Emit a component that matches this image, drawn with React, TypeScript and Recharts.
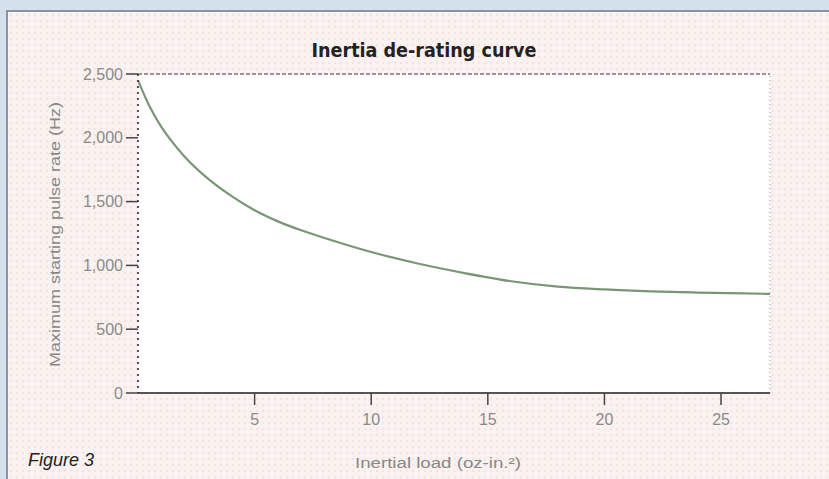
import React from 'react';
import { LineChart, Line, XAxis, YAxis, CartesianGrid, ReferenceLine } from 'recharts';

const loads = [0, 0.5, 1, 1.5, 2, 3, 4, 5, 6, 7, 8, 10, 12, 14, 16, 18, 20, 22, 24, 26, 27.1];
const rates = [2450, 2245, 2085, 1960, 1852, 1680, 1545, 1432, 1345, 1275, 1215, 1105, 1015, 940, 876, 834, 812, 797, 787, 780, 777];
const xTicks = [5, 10, 15, 20, 25];
const yTicks = [0, 500, 1000, 1500, 2000, 2500];
const title = 'Inertia de-rating curve';
const xLabel = 'Inertial load (oz-in.²)';
const yLabel = 'Maximum starting pulse rate (Hz)';
const figureLabel = 'Figure 3';
const xMax = 27.1;
const yMax = 2500;

const data = loads.map((x, i) => ({ x, y: rates[i] }));

const tickFont = { fill: '#8a8a8a', fontSize: 16, fontFamily: 'Liberation Sans, Arial, sans-serif' };

export default function App() {
  return (
    <div style={{ position: 'absolute', left: 0, top: 0, width: 829, height: 479, background: '#d5e1ea', overflow: 'hidden' }}>
      <div
        style={{
          position: 'absolute',
          left: 6,
          top: 10,
          width: 829,
          height: 479,
          borderTop: '2px solid #8c92a0',
          borderLeft: '2px solid #8c92a0',
          backgroundColor: '#faf2f0',
          backgroundImage: 'radial-gradient(circle, #f5e2e1 1px, transparent 1.6px)',
          backgroundSize: '6px 6px',
        }}
      />
      <div style={{ position: 'absolute', left: 0, top: 0 }}>
        <LineChart width={829} height={479} data={data} margin={{ top: 74, right: 59, bottom: 26, left: 38 }}>
          <CartesianGrid fill="#ffffff" horizontal={false} vertical={false} />
          <XAxis
            dataKey="x"
            type="number"
            domain={[0, xMax]}
            ticks={xTicks}
            allowDataOverflow
            height={60}
            tickSize={12}
            tickMargin={9}
            tick={tickFont}
            axisLine={{ stroke: '#555', strokeWidth: 2 }}
            tickLine={{ stroke: '#444', strokeWidth: 1.5 }}
          />
          <YAxis
            type="number"
            domain={[0, yMax]}
            ticks={yTicks}
            width={100}
            tickSize={12}
            tickMargin={3}
            tick={tickFont}
            tickFormatter={(v: number) => v.toLocaleString('en-US')}
            axisLine={{ stroke: '#222', strokeWidth: 1.5, strokeDasharray: '2 4' }}
            tickLine={{ stroke: '#444', strokeWidth: 1.5 }}
          />
          <ReferenceLine y={yMax} stroke="#777" strokeWidth={1.5} strokeDasharray="4 2" />
          <ReferenceLine x={xMax} stroke="#bbb" strokeWidth={1.5} strokeDasharray="1 3" />
          <Line
            dataKey="y"
            type="monotone"
            stroke="#7a9676"
            strokeWidth={2.2}
            dot={false}
            isAnimationActive={false}
          />
        </LineChart>
      </div>
      <svg width={829} height={479} style={{ position: 'absolute', left: 0, top: 0, pointerEvents: 'none' }}>
        <text
          x={424}
          y={57}
          textAnchor="middle"
          fontSize={20}
          fontWeight="bold"
          fontFamily="DejaVu Sans Condensed, DejaVu Sans, sans-serif"
          fill="#222"
          textLength={225}
          lengthAdjust="spacingAndGlyphs"
        >
          {title}
        </text>
        <text
          x={55}
          y={234.5}
          transform="rotate(-90, 55, 234.5)"
          textAnchor="middle"
          dominantBaseline="central"
          fontSize={14}
          fontFamily="Liberation Sans, Arial, sans-serif"
          fill="#888"
          textLength={265}
          lengthAdjust="spacingAndGlyphs"
        >
          {yLabel}
        </text>
        <text
          x={438}
          y={468}
          textAnchor="middle"
          fontSize={14}
          fontFamily="Liberation Sans, Arial, sans-serif"
          fill="#888"
          textLength={166}
          lengthAdjust="spacingAndGlyphs"
        >
          {xLabel}
        </text>
        <text
          x={28}
          y={466}
          fontSize={18}
          fontStyle="italic"
          fontFamily="Liberation Sans, Arial, sans-serif"
          fill="#222"
        >
          {figureLabel}
        </text>
      </svg>
    </div>
  );
}
